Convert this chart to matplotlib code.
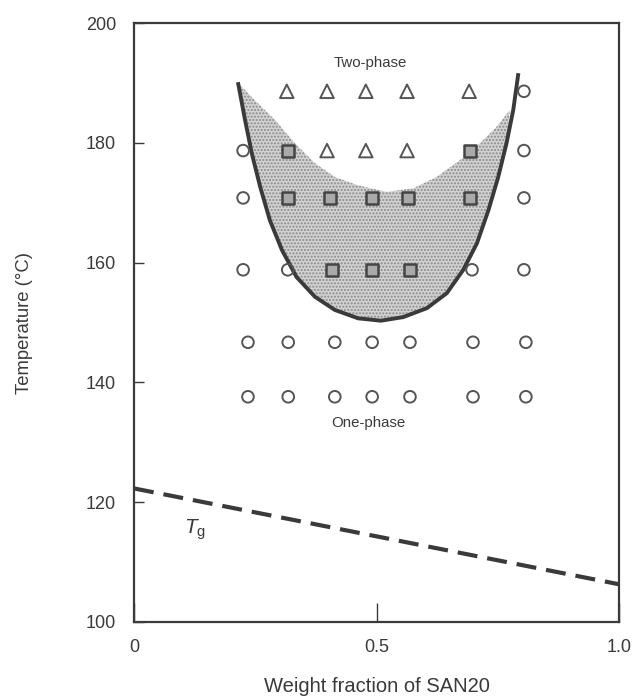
import matplotlib.pyplot as plt

plt.rcParams['font.family'] = ['Liberation Sans', 'DejaVu Sans']
plt.rcParams['mathtext.fontset'] = 'custom'
plt.rcParams['mathtext.it'] = 'Liberation Sans:italic'
plt.rcParams['mathtext.rm'] = 'Liberation Sans'

INK = '#3a3a3a'

# observation grid (weight fraction, temperature)
tri_x = [0.315, 0.398, 0.478, 0.563, 0.691, 0.398, 0.478, 0.563]
tri_t = [188.6, 188.6, 188.6, 188.6, 188.6, 178.7, 178.7, 178.7]

sq_x = [0.317, 0.693, 0.317, 0.404, 0.491, 0.565, 0.693, 0.408, 0.491, 0.569]
sq_t = [178.7, 178.7, 170.8, 170.8, 170.8, 170.8, 170.8, 158.8, 158.8, 158.8]

circ_x = [0.804, 0.225, 0.804, 0.225, 0.804, 0.225, 0.317, 0.697, 0.804,
          0.235, 0.318, 0.414, 0.491, 0.569, 0.699, 0.808,
          0.235, 0.318, 0.414, 0.491, 0.569, 0.699, 0.808]
circ_t = [188.6, 178.7, 178.7, 170.8, 170.8, 158.8, 158.8, 158.8, 158.8,
          146.7, 146.7, 146.7, 146.7, 146.7, 146.7, 146.7,
          137.6, 137.6, 137.6, 137.6, 137.6, 137.6, 137.6]

# binodal curve, read left to right
curve_x = [0.215, 0.229, 0.243, 0.260, 0.280, 0.305, 0.335, 0.373, 0.414,
           0.462, 0.509, 0.555, 0.604, 0.645, 0.679, 0.707, 0.731, 0.751,
           0.768, 0.782, 0.792]
curve_t = [189.8, 183.8, 178.2, 172.7, 167.1, 162.1, 157.6, 154.3, 152.1,
           150.7, 150.3, 150.9, 152.4, 154.9, 158.8, 163.2, 168.8, 174.3,
           179.9, 185.5, 191.3]

# upper edge of the shaded region, read right to left
shade_x = [0.775, 0.748, 0.713, 0.672, 0.624, 0.576, 0.521, 0.462, 0.414,
           0.373, 0.332, 0.291, 0.249, 0.222]
shade_t = [185.5, 182.7, 179.9, 177.1, 174.3, 172.4, 171.8, 172.9, 174.3,
           176.6, 179.9, 183.8, 187.1, 189.4]

# glass transition line
tg_x = [0.0, 1.0]
tg_t = [122.3, 106.3]

fig = plt.figure(figsize=(6.34, 6.99), dpi=100)
ax = fig.add_axes([134 / 634, 1 - 622 / 699, 485 / 634, 599 / 699])

# shaded two-phase region
poly_x = curve_x[:-2] + shade_x
poly_t = curve_t[:-2] + shade_t
ax.fill(poly_x, poly_t, facecolor='#d2d2d2', edgecolor='#8a8a8a',
        hatch='.....', linewidth=0, zorder=1)

ax.plot(curve_x, curve_t, color=INK, lw=2.8, solid_joinstyle='round', zorder=3)
ax.plot(tg_x, tg_t, color=INK, lw=3.0, dashes=(4.8, 2.4), zorder=3)

ax.scatter(circ_x, circ_t, s=70, marker='o', facecolor='none',
           edgecolor='#555555', linewidths=1.4, zorder=4)
ax.scatter(tri_x, tri_t, s=95, marker='^', facecolor='none',
           edgecolor='#555555', linewidths=1.4, zorder=4)
ax.scatter(sq_x, sq_t, s=78, marker='s', facecolor='#a9a9a9',
           edgecolor='#444444', linewidths=1.8, zorder=4)

ax.text(0.488, 193.3, 'Two-phase', ha='center', va='center', fontsize=10.8, color=INK)
ax.text(0.483, 133.3, 'One-phase', ha='center', va='center', fontsize=10.8, color=INK)
ax.text(0.126, 115.4, r'$T_{\rm g}$', ha='center', va='center', fontsize=15, color=INK)

ax.set_xlim(0, 1.0)
ax.set_ylim(100, 200)
ax.set_xticks([0, 0.5, 1.0])
ax.set_xticklabels(['0', '0.5', '1.0'])
ax.set_yticks([100, 120, 140, 160, 180, 200])

ax.tick_params(axis='x', direction='in', length=14, width=1.0, color=INK,
               labelsize=13, labelcolor=INK, pad=12)
ax.tick_params(axis='y', direction='in', length=7, width=1.0, color=INK,
               labelsize=13, labelcolor=INK, pad=13)
for sp in ax.spines.values():
    sp.set_linewidth(1.6)
    sp.set_color(INK)

ax.set_xlabel('Weight fraction of SAN20', fontsize=14.5, color=INK, labelpad=15)
ax.set_ylabel('Temperature (\u00b0C)', fontsize=13.3, color=INK, labelpad=38)

fig.savefig('out.png', dpi=100)
